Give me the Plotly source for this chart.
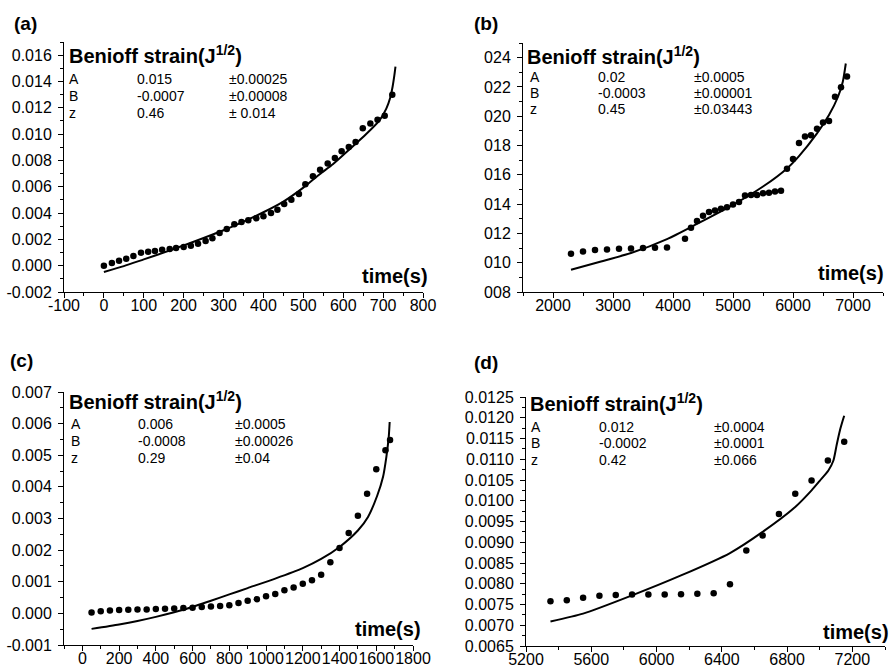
import plotly.graph_objects as go

W, H = 890, 671
FONT = "Liberation Sans, Arial, sans-serif"

# ---------------- data ----------------
# (a)
a_t = [0, 20, 38, 56, 74, 93, 111, 128, 146, 165, 181, 200, 218, 236, 255, 272, 290, 308, 327, 345, 362,
       382, 400, 419, 435, 452, 470, 489, 505, 524, 542, 561, 579, 596, 614, 631, 649, 668, 686, 704, 723]
a_strain = [0.0, 0.0002, 0.00038, 0.00053, 0.00074, 0.00099, 0.00106, 0.00112, 0.00122, 0.00127, 0.00134,
            0.00142, 0.00152, 0.00167, 0.00188, 0.00208, 0.00248, 0.00279, 0.00314, 0.00332, 0.00345,
            0.0036, 0.00375, 0.004, 0.00426, 0.00469, 0.00502, 0.00545, 0.00619, 0.00679, 0.0073,
            0.00776, 0.00819, 0.0087, 0.00902, 0.0094, 0.01044, 0.0108, 0.0111, 0.0114, 0.013]
a_fit_t = [0, 50, 100, 150, 200, 250, 300, 350, 400, 450, 500, 541, 574, 616, 657, 691, 708, 718, 724, 728, 731]
a_fit = [-0.00048, -0.00003, 0.00048, 0.00099, 0.00154, 0.0021, 0.00269, 0.00335, 0.00406, 0.00487, 0.00593,
         0.00695, 0.00771, 0.00885, 0.00999, 0.01105, 0.01194, 0.01278, 0.01364, 0.01442, 0.01513]
a_params = [["A", "0.015", "±0.00025"], ["B", "-0.0007", "±0.00008"], ["z", "0.46", "± 0.014"]]
a_xticks = [-100, 0, 100, 200, 300, 400, 500, 600, 700, 800]
a_yticks = [-0.002, 0.0, 0.002, 0.004, 0.006, 0.008, 0.010, 0.012, 0.014, 0.016]

# (b)
b_t = [2300, 2500, 2700, 2900, 3100, 3300, 3500, 3700, 3900, 4200, 4300, 4400, 4500, 4600, 4700, 4800,
       4900, 5000, 5100, 5200, 5300, 5400, 5500, 5600, 5700, 5800, 5900, 6000, 6100, 6200, 6300, 6400,
       6500, 6600, 6700, 6800, 6900]
b_strain = [0.01061, 0.01077, 0.01086, 0.01091, 0.01095, 0.01097, 0.011, 0.01102, 0.01104, 0.01163, 0.01238,
            0.01284, 0.0132, 0.01347, 0.01356, 0.01368, 0.01379, 0.01397, 0.01415, 0.01458, 0.01463,
            0.01463, 0.01474, 0.01477, 0.01486, 0.01492, 0.01642, 0.01708, 0.01817, 0.01862, 0.01871,
            0.01915, 0.01958, 0.01967, 0.02133, 0.02198, 0.02271]
b_fit_t = [2300, 2800, 3300, 3900, 4400, 5000, 5500, 5900, 6100, 6400, 6600, 6750, 6830, 6880]
b_fit = [0.00952, 0.01008, 0.01066, 0.01161, 0.01265, 0.01395, 0.0152, 0.01644, 0.01728, 0.01883, 0.02008,
         0.02133, 0.02235, 0.0236]
b_params = [["A", "0.02", "±0.0005"], ["B", "-0.0003", "±0.00001"], ["z", "0.45", "±0.03443"]]
b_xticks = [2000, 3000, 4000, 5000, 6000, 7000]
b_yticks = [0.008, 0.010, 0.012, 0.014, 0.016, 0.018, 0.020, 0.022, 0.024]
b_ylabels = ["008", "010", "012", "014", "016", "018", "020", "022", "024"]

# (c)
c_t = [50, 100, 150, 200, 250, 300, 350, 400, 450, 500, 550, 600, 650, 700, 750, 800, 850, 900, 950,
       1000, 1050, 1100, 1150, 1200, 1250, 1300, 1350, 1400, 1450, 1500, 1550, 1600, 1650, 1675]
c_strain = [0.00003, 0.00007, 0.00009, 0.000105, 0.000116, 0.000126, 0.000126, 0.000137, 0.000147, 0.000158,
            0.000168, 0.000179, 0.0002, 0.00022, 0.00023, 0.00026, 0.00033, 0.0004, 0.00045, 0.00054,
            0.00061, 0.00073, 0.00082, 0.00094, 0.00105, 0.00122, 0.00162, 0.00207, 0.00254, 0.00309,
            0.00378, 0.00456, 0.00516, 0.00548]
c_fit_t = [50, 200, 300, 400, 555, 700, 800, 900, 1050, 1200, 1300, 1400, 1500, 1555, 1605, 1637, 1655,
           1668, 1673]
c_fit = [-0.00049, -0.00035, -0.00024, -0.00011, 0.00012, 0.0004, 0.0006, 0.0008, 0.0011, 0.00143, 0.00172,
         0.0021, 0.00262, 0.00305, 0.00372, 0.00432, 0.00495, 0.00558, 0.00605]
c_params = [["A", "0.006", "±0.0005"], ["B", "-0.0008", "±0.00026"], ["z", "0.29", "±0.04"]]
c_xticks = [0, 200, 400, 600, 800, 1000, 1200, 1400, 1600, 1800]
c_yticks = [-0.001, 0.0, 0.001, 0.002, 0.003, 0.004, 0.005, 0.006, 0.007]

# (d)
d_t = [5350, 5450, 5550, 5650, 5750, 5850, 5950, 6050, 6150, 6250, 6350, 6450, 6550, 6650, 6750, 6850,
       6950, 7050, 7150]
d_strain = [0.00758, 0.0076, 0.00766, 0.00771, 0.00773, 0.00774, 0.00774, 0.00774, 0.00775, 0.00776,
            0.00777, 0.00799, 0.0088, 0.00916, 0.00968, 0.01017, 0.01049, 0.01097, 0.01142]
d_fit_t = [5350, 5550, 5850, 6150, 6450, 6650, 6850, 6950, 7000, 7053, 7084, 7104, 7124, 7140, 7150]
d_fit = [0.00709, 0.00728, 0.00772, 0.0082, 0.00874, 0.00925, 0.00985, 0.01025, 0.01048, 0.01073, 0.01097,
         0.01135, 0.0117, 0.01192, 0.01205]
d_params = [["A", "0.012", "±0.0004"], ["B", "-0.0002", "±0.0001"], ["z", "0.42", "±0.066"]]
d_xticks = [5200, 5600, 6000, 6400, 6800, 7200]
d_yticks = [0.0065, 0.0070, 0.0075, 0.0080, 0.0085, 0.0090, 0.0095, 0.0100, 0.0105, 0.0110, 0.0115,
            0.0120, 0.0125]

panel_labels = ["(a)", "(b)", "(c)", "(d)"]
y_title = "Benioff strain(J<sup>1/2</sup>)"
x_title = "time(s)"


def fmt(v, d):
    return f"{v:.{d}f}"


# ---------------- layout geometry (pixels) ----------------
panels = [
    dict(t=a_t, y=a_strain, ft=a_fit_t, fy=a_fit, params=a_params,
         xt=a_xticks, xl=[str(v) for v in a_xticks], yt=a_yticks, yl=[fmt(v, 3) for v in a_yticks],
         xr=[-100, 800], yr=[-0.002, 0.017], px=(64, 423), py=(42, 292),
         xminor=50, yminor=0.001, label_xy=(12, 23), title_xy=(67, 55),
         rows_y=(79, 96, 113), cols_x=(67, 135, 227), time_xy=(430, 276)),
    dict(t=b_t, y=b_strain, ft=b_fit_t, fy=b_fit, params=b_params,
         xt=b_xticks, xl=[str(v) for v in b_xticks], yt=b_yticks, yl=b_ylabels,
         xr=[1500, 7500], yr=[0.008, 0.025], px=(523, 883), py=(43, 292),
         xminor=500, yminor=0.001, label_xy=(472, 23), title_xy=(525, 56),
         rows_y=(77, 93, 109), cols_x=(528, 596, 692), time_xy=(886, 273)),
    dict(t=c_t, y=c_strain, ft=c_fit_t, fy=c_fit, params=c_params,
         xt=c_xticks, xl=[str(v) for v in c_xticks], yt=c_yticks, yl=[fmt(v, 3) for v in c_yticks],
         xr=[-100, 1800], yr=[-0.001, 0.007], px=(64, 413), py=(392, 645),
         xminor=100, yminor=0.0005, label_xy=(8, 360), title_xy=(67, 400),
         rows_y=(424, 441, 458), cols_x=(69, 136, 233), time_xy=(423, 629)),
    dict(t=d_t, y=d_strain, ft=d_fit_t, fy=d_fit, params=d_params,
         xt=d_xticks, xl=[str(v) for v in d_xticks], yt=d_yticks, yl=[fmt(v, 4) for v in d_yticks],
         xr=[5200, 7400], yr=[0.0065, 0.0125], px=(526, 885), py=(397, 646),
         xminor=200, yminor=0.00025, label_xy=(472, 362), title_xy=(528, 402),
         rows_y=(427, 443, 460), cols_x=(529, 597, 712), time_xy=(891, 632)),
]


def fx(x):
    return x / W


def fy(y):
    return 1 - y / H


fig = go.Figure()
annotations = []
layout = {}

for i, p in enumerate(panels):
    n = "" if i == 0 else str(i + 1)
    xa, ya = "x" + n, "y" + n
    fig.add_trace(go.Scatter(x=p["ft"], y=p["fy"], mode="lines", xaxis=xa, yaxis=ya,
                             line=dict(color="black", width=2, shape="spline", smoothing=0.6),
                             showlegend=False, hoverinfo="skip"))
    fig.add_trace(go.Scatter(x=p["t"], y=p["y"], mode="markers", xaxis=xa, yaxis=ya,
                             marker=dict(color="black", size=6.5, symbol="circle"),
                             showlegend=False))
    common = dict(showgrid=False, zeroline=False, showline=True, linecolor="black", linewidth=1,
                  ticks="outside", ticklen=5, tickwidth=1, tickcolor="black", automargin=False,
                  tickangle=0, tickfont=dict(family=FONT, size=16, color="black"), tickmode="array")
    layout["xaxis" + n] = dict(common, domain=[fx(p["px"][0]), fx(p["px"][1])], range=p["xr"],
                               anchor=ya, tickvals=p["xt"], ticktext=p["xl"], ticklabelstandoff=-6,
                               minor=dict(dtick=p["xminor"], tick0=p["xr"][0], ticklen=3,
                                          ticks="outside", tickcolor="black", tickwidth=1))
    layout["yaxis" + n] = dict(common, domain=[fy(p["py"][1]), fy(p["py"][0])], range=p["yr"],
                               anchor=xa, tickvals=p["yt"], ticktext=p["yl"], ticklabelstandoff=3,
                               minor=dict(dtick=p["yminor"], tick0=p["yr"][0], ticklen=3,
                                          ticks="outside", tickcolor="black", tickwidth=1))
    annotations.append(dict(text="<b>" + panel_labels[i] + "</b>", x=fx(p["label_xy"][0]),
                            y=fy(p["label_xy"][1]), xref="paper", yref="paper", showarrow=False,
                            xanchor="left", yanchor="middle",
                            font=dict(family=FONT, size=19, color="black")))
    annotations.append(dict(text="<b>" + y_title + "</b>", x=fx(p["title_xy"][0]),
                            y=fy(p["title_xy"][1]), xref="paper", yref="paper", showarrow=False,
                            xanchor="left", yanchor="middle",
                            font=dict(family=FONT, size=20, color="black")))
    for r, row in enumerate(p["params"]):
        for c, txt in enumerate(row):
            annotations.append(dict(text=txt, x=fx(p["cols_x"][c]), y=fy(p["rows_y"][r]),
                                    xref="paper", yref="paper", showarrow=False,
                                    xanchor="left", yanchor="middle",
                                    font=dict(family=FONT, size=14, color="black")))
    annotations.append(dict(text="<b>" + x_title + "</b>", x=fx(p["time_xy"][0]),
                            y=fy(p["time_xy"][1]), xref="paper", yref="paper", showarrow=False,
                            xanchor="right", yanchor="middle",
                            font=dict(family=FONT, size=20, color="black")))

fig.update_layout(template="none", width=W, height=H, margin=dict(l=0, r=0, t=0, b=0),
                  paper_bgcolor="white", plot_bgcolor="white", showlegend=False,
                  annotations=annotations, **layout)

fig.write_html("out.html")
